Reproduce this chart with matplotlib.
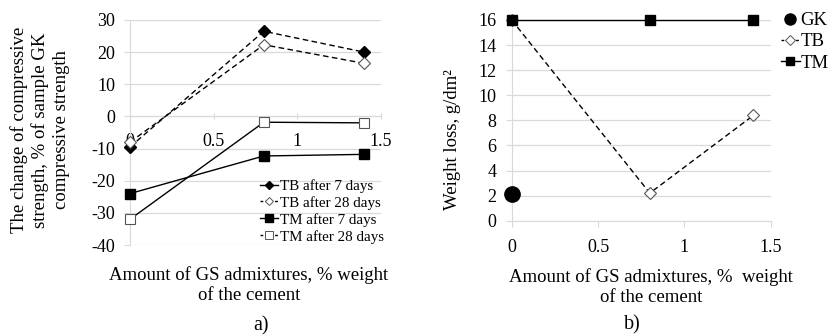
import matplotlib
matplotlib.use("Agg")
import matplotlib.pyplot as plt
from matplotlib.lines import Line2D

plt.rcParams['font.family'] = ['Liberation Serif', 'DejaVu Serif']
plt.rcParams['axes.unicode_minus'] = False

# ---- data: panel a) ----
x_a = [0, 0.8, 1.4]
tb_7 = [-9.5, 26.5, 20.0]
tb_28 = [-8.0, 22.3, 16.5]
tm_7 = [-24.0, -12.3, -11.8]
tm_28 = [-32.0, -1.8, -2.0]
labels_a = ["TB after 7 days", "TB after 28 days", "TM after 7 days", "TM after 28 days"]
yticks_a = [-40, -30, -20, -10, 0, 10, 20, 30]
xticks = [0, 0.5, 1, 1.5]
xticklabels = ["0", "0.5", "1", "1.5"]

# ---- data: panel b) ----
x_b = [0, 0.8, 1.4]
gk_x = [0]
gk_y = [2.1]
tb_b = [16.0, 2.2, 8.4]
tm_b = [16.0, 16.0, 16.0]
labels_b = ["GK", "TB", "TM"]
yticks_b = [0, 2, 4, 6, 8, 10, 12, 14, 16]

W, H = 830, 336
fig = plt.figure(figsize=(W/100, H/100), dpi=100)
grid_c = '#d9d9d9'
tick_fs = 13
lab_fs = 13.5

def fx(px):
    return px / W

def fy(py):
    return 1 - py / H

# ---------- panel a ----------
axa = fig.add_axes([fx(130), fy(245), fx(381) - fx(130), fy(20) - fy(245)])
axa.set_xlim(0, 1.5)
axa.set_ylim(-40, 30)
for s in ['top', 'right']:
    axa.spines[s].set_visible(False)
axa.spines['left'].set_color(grid_c)
axa.spines['bottom'].set_color(grid_c)
axa.spines['bottom'].set_position(('data', 0))
axa.set_yticks(yticks_a)
axa.set_xticks(xticks)
axa.set_xticklabels(xticklabels)
axa.grid(axis='y', color=grid_c, lw=0.9)
axa.set_axisbelow(True)
axa.tick_params(axis='y', length=4, color=grid_c, labelsize=tick_fs, pad=6.5)
axa.tick_params(axis='x', length=4, direction='inout', color=grid_c, labelsize=tick_fs, pad=10)

dash = (4, 2.5)
axa.plot(x_a, tb_7, color='black', lw=1.0, ls=(0, dash), marker='D', ms=6,
         mfc='black', mec='black', clip_on=False, zorder=4)
axa.plot(x_a, tb_28, color='black', lw=1.0, ls=(0, dash), marker='D', ms=6,
         mfc='white', mec='#555555', mew=0.8, clip_on=False, zorder=4)
axa.plot(x_a, tm_7, color='black', lw=1.0, ls='-', marker='s', ms=6.5,
         mfc='black', mec='black', clip_on=False, zorder=4)
axa.plot(x_a, tm_28, color='black', lw=1.0, ls='-', marker='s', ms=6.5,
         mfc='white', mec='#555555', mew=0.8, clip_on=False, zorder=4)

handles_a = [
    Line2D([], [], color='black', lw=1.0, marker='D', ms=4.5, mfc='black', mec='black'),
    Line2D([], [], color='black', lw=1.0, ls=(0, (2, 1.5)), marker='D', ms=4.5, mfc='white', mec='#555555', mew=0.7),
    Line2D([], [], color='black', lw=1.0, marker='s', ms=5.5, mfc='black', mec='black'),
    Line2D([], [], color='black', lw=1.0, ls=(0, (2, 1.5)), marker='s', ms=5.5, mfc='white', mec='#555555', mew=0.7),
]
fig.legend(handles_a, labels_a, loc='upper left', bbox_to_anchor=(fx(260), fy(179)),
           frameon=False, fontsize=10.8, handlelength=1.2, handletextpad=0.1,
           labelspacing=0.21, borderpad=0, borderaxespad=0)

fig.text(fx(40), fy(130), "The change of compressive\nstrength, % of sample GK\ncompressive strength",
         rotation=90, ha='center', va='center', fontsize=lab_fs, linespacing=1.25, multialignment='center')
fig.text(fx(249), fy(275), "Amount of GS admixtures, % weight", ha='center', va='center', fontsize=lab_fs)
fig.text(fx(249), fy(295), "of the cement", ha='center', va='center', fontsize=lab_fs)
fig.text(fx(261), fy(326), "a)", ha='center', va='center', fontsize=14.5)

# ---------- panel b ----------
axb = fig.add_axes([fx(511.7), fy(220.7), fx(770.7) - fx(511.7), fy(20) - fy(220.7)])
axb.set_xlim(0, 1.5)
axb.set_ylim(0, 16)
for s in ['top', 'right']:
    axb.spines[s].set_visible(False)
axb.spines['left'].set_color(grid_c)
axb.spines['bottom'].set_color(grid_c)
axb.set_yticks(yticks_b)
axb.set_xticks(xticks)
axb.set_xticklabels(xticklabels)
axb.grid(axis='y', color=grid_c, lw=0.9)
axb.set_axisbelow(True)
axb.tick_params(axis='both', length=4, color=grid_c, labelsize=tick_fs)
axb.tick_params(axis='y', pad=7)
axb.tick_params(axis='x', pad=9)

axb.plot(gk_x, gk_y, ls='none', marker='o', ms=11, mfc='black', mec='black', clip_on=False, zorder=5)
axb.plot(x_b, tb_b, color='black', lw=1.0, ls=(0, dash), marker='D', ms=6,
         mfc='white', mec='#555555', mew=0.8, clip_on=False, zorder=4)
axb.plot(x_b, tm_b, color='black', lw=1.0, ls='-', marker='s', ms=6.5,
         mfc='black', mec='black', clip_on=False, zorder=4)

handles_b = [
    Line2D([], [], ls='none', marker='o', ms=8, mfc='black', mec='black'),
    Line2D([], [], color='black', lw=1.0, ls=(0, (2, 1.5)), marker='D', ms=5, mfc='white', mec='#555555', mew=0.7),
    Line2D([], [], color='black', lw=1.0, marker='s', ms=6, mfc='black', mec='black'),
]
fig.legend(handles_b, labels_b, loc='upper left', bbox_to_anchor=(fx(781), fy(12)),
           frameon=False, fontsize=lab_fs, handlelength=1.0, handletextpad=0.05,
           labelspacing=0.22, borderpad=0, borderaxespad=0)

fig.text(fx(452), fy(140), "Weight loss, g/dm²", rotation=90, ha='center', va='center', fontsize=lab_fs)
fig.text(fx(651), fy(277), "Amount of GS admixtures, %  weight", ha='center', va='center', fontsize=lab_fs)
fig.text(fx(651), fy(298), "of the cement", ha='center', va='center', fontsize=lab_fs)
fig.text(fx(632), fy(325), "b)", ha='center', va='center', fontsize=14.5)

fig.savefig("out.png", dpi=100)
